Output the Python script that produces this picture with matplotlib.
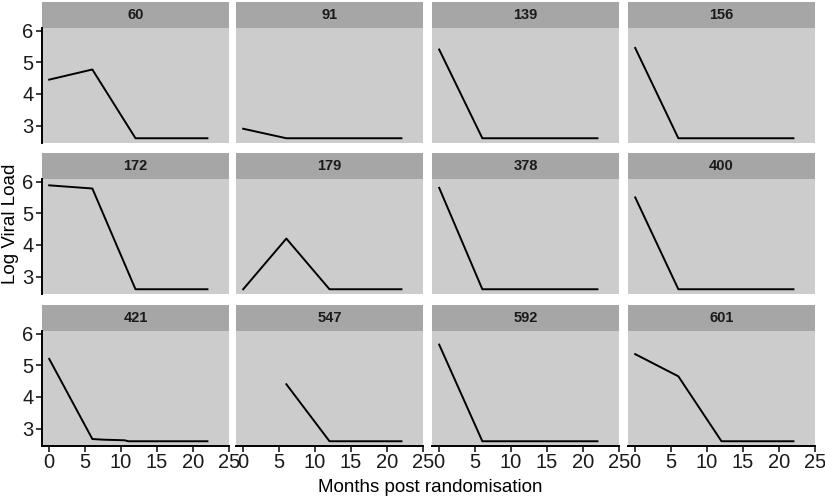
import numpy as np
import matplotlib.pyplot as plt

plt.rcParams['font.family'] = ['Liberation Sans', 'DejaVu Sans']

# Patient ids and their viral load trajectories
ids = ["60", "91", "139", "156", "172", "179", "378", "400", "421", "547", "592", "601"]
months = [
    [0, 6, 12, 18, 22],
    [0, 6, 12, 18, 22],
    [0, 6, 12, 18, 22],
    [0, 6, 12, 18, 22],
    [0, 6, 12, 18, 22],
    [0, 6, 12, 18, 22],
    [0, 6, 12, 18, 22],
    [0, 6, 12, 18, 22],
    [0, 6, 7.5, 10.5, 11, 22],
    [6, 12, 18, 22],
    [0, 6, 12, 18, 22],
    [0, 6, 12, 18, 22],
]
log_vl = [
    [4.45, 4.77, 2.6, 2.6, 2.6],
    [2.9, 2.6, 2.6, 2.6, 2.6],
    [5.4, 2.6, 2.6, 2.6, 2.6],
    [5.45, 2.6, 2.6, 2.6, 2.6],
    [5.88, 5.78, 2.6, 2.6, 2.6],
    [2.6, 4.2, 2.6, 2.6, 2.6],
    [5.8, 2.6, 2.6, 2.6, 2.6],
    [5.5, 2.6, 2.6, 2.6, 2.6],
    [5.2, 2.67, 2.65, 2.63, 2.6, 2.6],
    [4.4, 2.6, 2.6, 2.6],
    [5.65, 2.6, 2.6, 2.6, 2.6],
    [5.35, 4.65, 2.6, 2.6, 2.6],
]
xticks = [0, 5, 10, 15, 20, 25]
yticks = [3, 4, 5, 6]

W, H = 825, 500
fig = plt.figure(figsize=(W / 100, H / 100), dpi=100)

col_left = [42, 236, 432, 628]
pw = 187
row_top = [2, 153, 305]
sh = 26
ph = 115

def box(x, y, w, h):
    return [x / W, 1 - (y + h) / H, w / W, h / H]

for i, pid in enumerate(ids):
    r, c = divmod(i, 4)
    x0, y0 = col_left[c], row_top[r]
    sax = fig.add_axes(box(x0, y0, pw, sh))
    sax.set_facecolor('#a6a6a6')
    sax.set_xticks([])
    sax.set_yticks([])
    for s in sax.spines.values():
        s.set_visible(False)
    sax.text(0.5, 0.5, pid, ha='center', va='center', fontsize=10.5,
             fontweight='bold', color='#1a1a1a', transform=sax.transAxes)

    ax = fig.add_axes(box(x0, y0 + sh, pw, ph))
    ax.set_facecolor('#cccccc')
    ax.plot(months[i], log_vl[i], color='black', lw=1.4)
    ax.set_xlim(-1.0, 25.0)
    ax.set_ylim(2.45, 6.08)
    ax.set_xticks(xticks)
    ax.set_yticks(yticks)
    for s in ax.spines.values():
        s.set_visible(False)
    ax.tick_params(labelsize=14.5, colors='#1a1a1a', length=4, width=1.2)
    if c == 0:
        ax.spines['left'].set_visible(True)
        ax.spines['left'].set_linewidth(1.4)
        ax.tick_params(axis='y', pad=2)
    else:
        ax.tick_params(axis='y', left=False, labelleft=False)
    if r == 2:
        ax.spines['bottom'].set_visible(True)
        ax.spines['bottom'].set_linewidth(1.4)
        ax.tick_params(axis='x', pad=1)
    else:
        ax.tick_params(axis='x', bottom=False, labelbottom=False)

fig.text(430 / W, 1 - 488 / H, "Months post randomisation", ha='center',
         va='center', fontsize=13.5)
fig.text(11 / W, 1 - 224 / H, "Log Viral Load", ha='center', va='center',
         rotation=90, fontsize=13.5)

fig.savefig("out.png", dpi=100)
